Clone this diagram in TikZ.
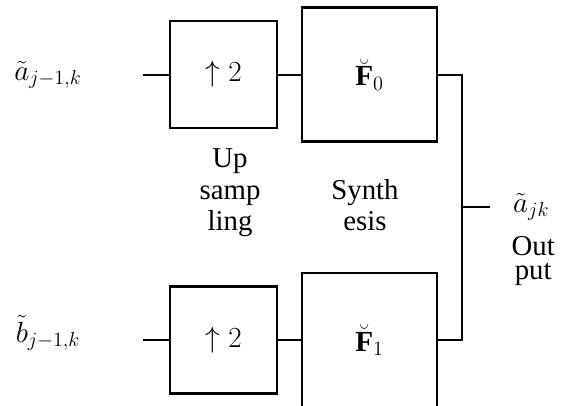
\documentclass[tikz,border=0pt]{standalone}
\usepackage{fontspec}
\setmainfont{Liberation Serif}
\begin{document}
\begin{tikzpicture}[font=\fontsize{20.5}{22.5}\selectfont,
  upbox/.style={draw, line width=1.5pt, minimum width=2.675cm, minimum height=2.675cm, inner sep=0pt},
  filtbox/.style={draw, line width=1.9pt, minimum width=3.375cm, minimum height=3.35cm, inner sep=0pt},
  wire/.style={line width=1.4pt},
  mathlbl/.style={font=\fontsize{20.74}{24}\selectfont}]
  \useasboundingbox (0,0) rectangle (14.2,10.125);
  \clip (0,0) rectangle (14.2,10.125);
  % upper branch
  \node[mathlbl] (ina) at (1.2,8.25) {$\tilde a_{j-1,k}$};
  \coordinate (ina0) at (3.575,8.26);
  \node[upbox, mathlbl] (up0) at (5.59,8.26) {$\uparrow 2$};
  \node[filtbox, mathlbl] (f0) at (9.24,8.26) {$\breve{\mathbf{F}}_0$};
  \draw[wire] (ina0) -- (up0);
  \draw[wire] (up0) -- (f0);
  % lower branch
  \node[mathlbl] (inb) at (1.2,1.8) {$\tilde b_{j-1,k}$};
  \coordinate (inb0) at (3.575,1.625);
  \node[upbox, mathlbl] (up1) at (5.59,1.625) {$\uparrow 2$};
  \node[filtbox, mathlbl] (f1) at (9.24,1.625) {$\breve{\mathbf{F}}_1$};
  \draw[wire, line width=1.9pt] (inb0) -- (up1);
  \draw[wire, line width=1.9pt] (up1) -- (f1);
  % output
  \coordinate (sum) at (11.55,4.95);
  \coordinate (outend) at (12.25,4.95);
  \draw[wire] (f0.east) -| (sum) |- (f1.east);
  \draw[wire] (sum) -- (outend);
  \node[mathlbl] (outa) at (13.28,4.95) {$\tilde a_{jk}$};
  % captions
  \node[align=center] (upcap) at (5.75,5.3) {Up\\ samp\\ ling};
  \node[align=center] (syncap) at (9.125,5.0) {Synth\\ esis};
  \node[align=center, font=\fontsize{20.5}{16.5}\selectfont] (outcap) at (13.33,3.6) {Out\\ put};
\end{tikzpicture}
\end{document}
